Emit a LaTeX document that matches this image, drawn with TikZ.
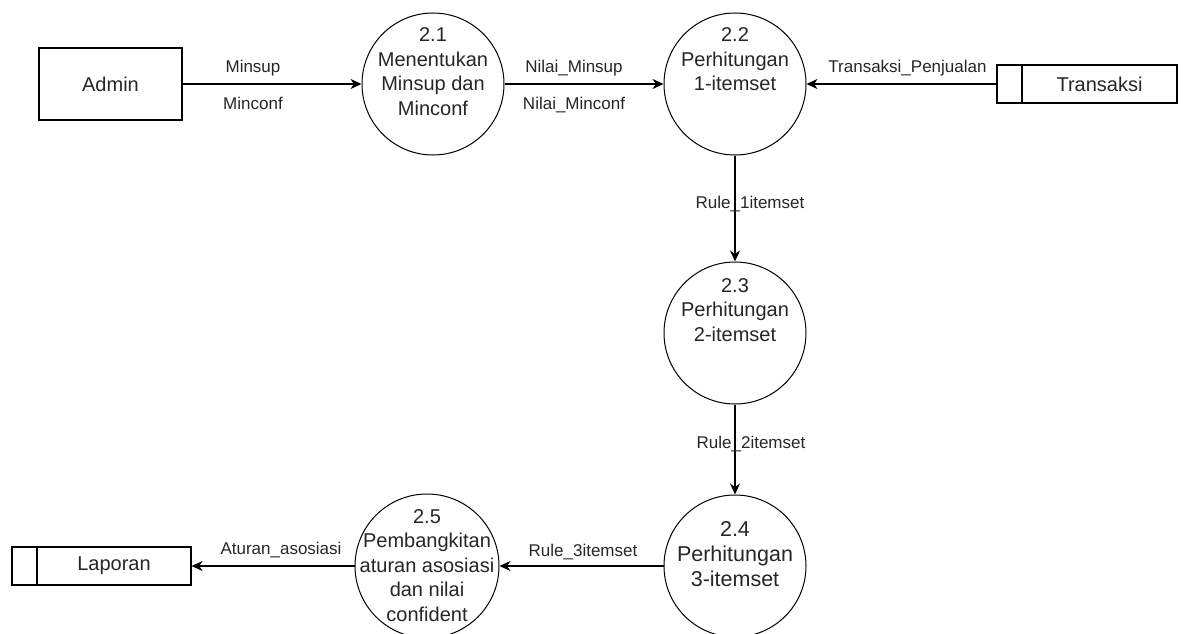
\documentclass[tikz,border=0pt]{standalone}
\usepackage{fontspec}
\setmainfont{Liberation Sans}
\usetikzlibrary{arrows.meta}
\begin{document}
\begin{tikzpicture}[x=1pt,y=-1pt,
  every node/.style={text=black!85},
  nodefont/.style={font=\fontsize{20}{24.5}\selectfont},
  bigfont/.style={font=\fontsize{21.5}{25}\selectfont},
  flowfont/.style={font=\fontsize{17}{20}\selectfont},
  entity/.style={draw=black, line width=1.2pt, minimum width=143pt, minimum height=72pt, inner sep=0pt, nodefont},
  proc/.style={draw=black, circle, line width=1pt, minimum size=142pt, inner sep=0pt},
  proctext/.style={anchor=north, align=center, inner sep=0pt, nodefont},
  store/.style={draw=black, line width=1.2pt, minimum height=38pt, inner sep=0pt,
    path picture={\draw[line width=1.2pt]
      ([xshift=25pt]path picture bounding box.north west) --
      ([xshift=25pt]path picture bounding box.south west);}},
  flow/.style={draw=black, line width=1.5pt, -{Stealth[length=11pt,width=10pt,inset=3.5pt]}},
  flowlabel/.style={anchor=base, inner sep=0pt, flowfont},
]
\useasboundingbox (0,0) rectangle (1184,634);
\fill[white] (0,0) rectangle (1184,634);

% external entity
\node[entity] (admin) at (110.5,84) {Admin};

% processes
\node[proc] (p21) at (433,84) {};
\node[proctext] (p21t) at ([yshift=-15pt]p21.north) {2.1\\Menentukan\\Minsup dan\\Minconf};

\node[proc] (p22) at (735,84) {};
\node[proctext] (p22t) at ([yshift=-15pt]p22.north) {2.2\\Perhitungan\\1-itemset};

\node[proc] (p23) at (735,333) {};
\node[proctext] (p23t) at ([yshift=-16.5pt]p23.north) {2.3\\Perhitungan\\2-itemset};

\node[proc] (p24) at (735,566) {};
\node[proctext, bigfont] (p24t) at ([yshift=-27pt]p24.north) {2.4\\Perhitungan\\3-itemset};

\node[proc, minimum size=144pt] (p25) at (427,566) {};
\node[proctext] (p25t) at ([yshift=-15.5pt]p25.north) {2.5\\Pembangkitan\\aturan asosiasi\\dan nilai\\confident};

% data stores
\node[store, minimum width=180pt] (trans) at (1087,84) {};
\node[nodefont] (transt) at ([xshift=12.5pt]trans.center) {Transaksi};

\node[store, minimum width=179pt] (lap) at (101.5,566) {};
\node[nodefont] (lapt) at ([xshift=12.5pt]lap.center) {Laporan};

% data flows
\draw[flow] (admin) -- (p21);
\draw[flow] (p21) -- (p22);
\draw[flow] (trans) -- (p22);
\draw[flow] (p22) -- (p23);
\draw[flow] (p23) -- (p24);
\draw[flow] (p24) -- (p25);
\draw[flow] (p25) -- (lap);

% flow labels
\node[flowlabel] (l1) at (253,73) {Minsup};
\node[flowlabel] (l2) at (253,110) {Minconf};
\node[flowlabel] (l3) at (574,73) {Nilai\_Minsup};
\node[flowlabel] (l4) at (574,110) {Nilai\_Minconf};
\node[flowlabel] (l5) at (907.5,73) {Transaksi\_Penjualan};
\node[flowlabel] (l6) at (750,208) {Rule\_1itemset};
\node[flowlabel] (l7) at (751,448) {Rule\_2itemset};
\node[flowlabel] (l8) at (583,556) {Rule\_3itemset};
\node[flowlabel] (l9) at (281,554) {Aturan\_asosiasi};
\end{tikzpicture}
\end{document}
